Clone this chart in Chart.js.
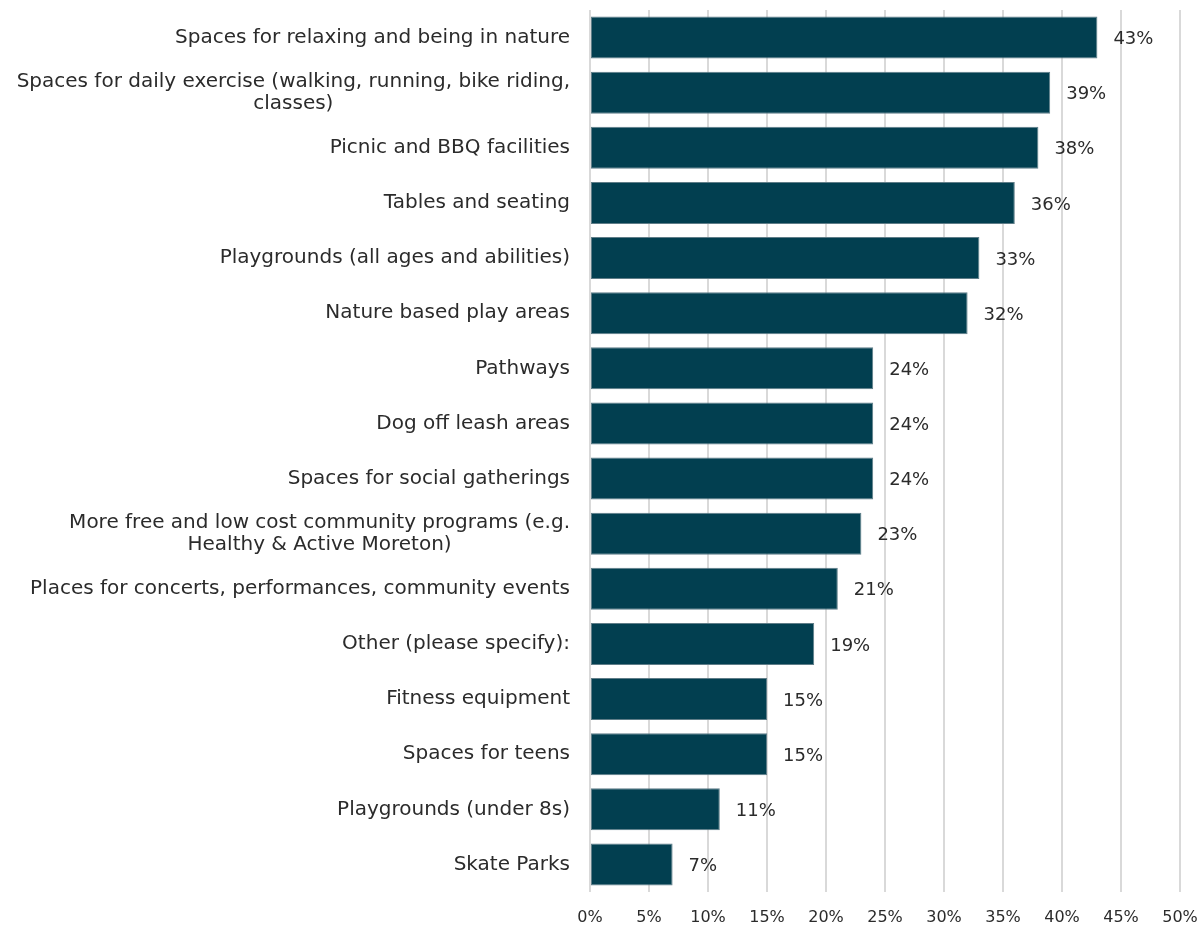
<!DOCTYPE html>
<html>
<head>
<meta charset="utf-8">
<script src="https://cdn.jsdelivr.net/npm/chart.js@4"></script>
<style>
  html, body { margin: 0; padding: 0; background: #fff; }
  #wrap { width: 1204px; height: 927px; }
</style>
</head>
<body>
<div id="wrap"><canvas id="chart"></canvas></div>
<script>
// what people want to see in local parks (% of respondents)
const categories = [
  'Spaces for relaxing and being in nature',
  ['Spaces for daily exercise (walking, running, bike riding,', 'classes)'],
  'Picnic and BBQ facilities',
  'Tables and seating',
  'Playgrounds (all ages and abilities)',
  'Nature based play areas',
  'Pathways',
  'Dog off leash areas',
  'Spaces for social gatherings',
  ['More free and low cost community programs (e.g.', 'Healthy & Active Moreton)'],
  'Places for concerts, performances, community events',
  'Other (please specify):',
  'Fitness equipment',
  'Spaces for teens',
  'Playgrounds (under 8s)',
  'Skate Parks'
];
const percents = [43, 39, 38, 36, 33, 32, 24, 24, 24, 23, 21, 19, 15, 15, 11, 7];
const xTicks = [0, 5, 10, 15, 20, 25, 30, 35, 40, 45, 50];

const FONT = '"DejaVu Sans", sans-serif';
const TEXT = '#2b2b2b';

// category labels: block right-aligned, wrapped lines centred within the block
const catLabels = {
  id: 'catLabels',
  afterDraw(chart) {
    const ctx = chart.ctx;
    const y = chart.scales.y;
    const right = chart.chartArea.left - 20;
    ctx.save();
    ctx.font = '20px ' + FONT;
    ctx.fillStyle = TEXT;
    ctx.textBaseline = 'middle';
    ctx.textAlign = 'center';
    categories.forEach((lab, i) => {
      const lines = Array.isArray(lab) ? lab : [lab];
      const w = Math.max(...lines.map(l => ctx.measureText(l).width));
      const cy = y.getPixelForTick(i);
      const lh = 22;
      lines.forEach((l, k) => {
        ctx.fillText(l, right - w / 2, cy + (k - (lines.length - 1) / 2) * lh);
      });
    });
    ctx.restore();
  }
};

// value labels at the end of each bar
const valueLabels = {
  id: 'valueLabels',
  afterDatasetsDraw(chart) {
    const ctx = chart.ctx;
    ctx.save();
    ctx.font = '18px ' + FONT;
    ctx.fillStyle = TEXT;
    ctx.textBaseline = 'middle';
    ctx.textAlign = 'left';
    chart.getDatasetMeta(0).data.forEach((bar, i) => {
      ctx.fillText(percents[i] + '%', bar.x + 16, bar.y + 2);
    });
    ctx.restore();
  }
};

new Chart(document.getElementById('chart'), {
  type: 'bar',
  data: {
    labels: categories,
    datasets: [{
      data: percents,
      backgroundColor: '#023f50',
      borderColor: '#5f7d88',
      borderWidth: 1,
      borderSkipped: false,
      categoryPercentage: 1,
      barPercentage: 0.762
    }]
  },
  options: {
    indexAxis: 'y',
    responsive: true,
    maintainAspectRatio: false,
    animation: false,
    layout: { padding: { top: 10, right: 24, bottom: 0, left: 0 } },
    plugins: {
      legend: { display: false },
      tooltip: { enabled: false }
    },
    scales: {
      x: {
        min: 0,
        max: 50,
        afterBuildTicks(scale) {
          scale.ticks = xTicks.map(v => ({ value: v }));
        },
        afterFit(scale) {
          scale.height = 35;
          scale.paddingLeft = 0;
          scale.paddingRight = 0;
        },
        ticks: {
          callback: v => v + '%',
          font: { family: FONT, size: 16 },
          color: TEXT,
          padding: 16,
          maxRotation: 0
        },
        grid: { color: '#d9d9d9', lineWidth: 2, drawTicks: false },
        border: { display: false }
      },
      y: {
        ticks: { display: false },
        grid: { display: false },
        border: { display: false },
        afterFit(scale) { scale.width = 590; }
      }
    }
  },
  plugins: [catLabels, valueLabels]
});
</script>
</body>
</html>
